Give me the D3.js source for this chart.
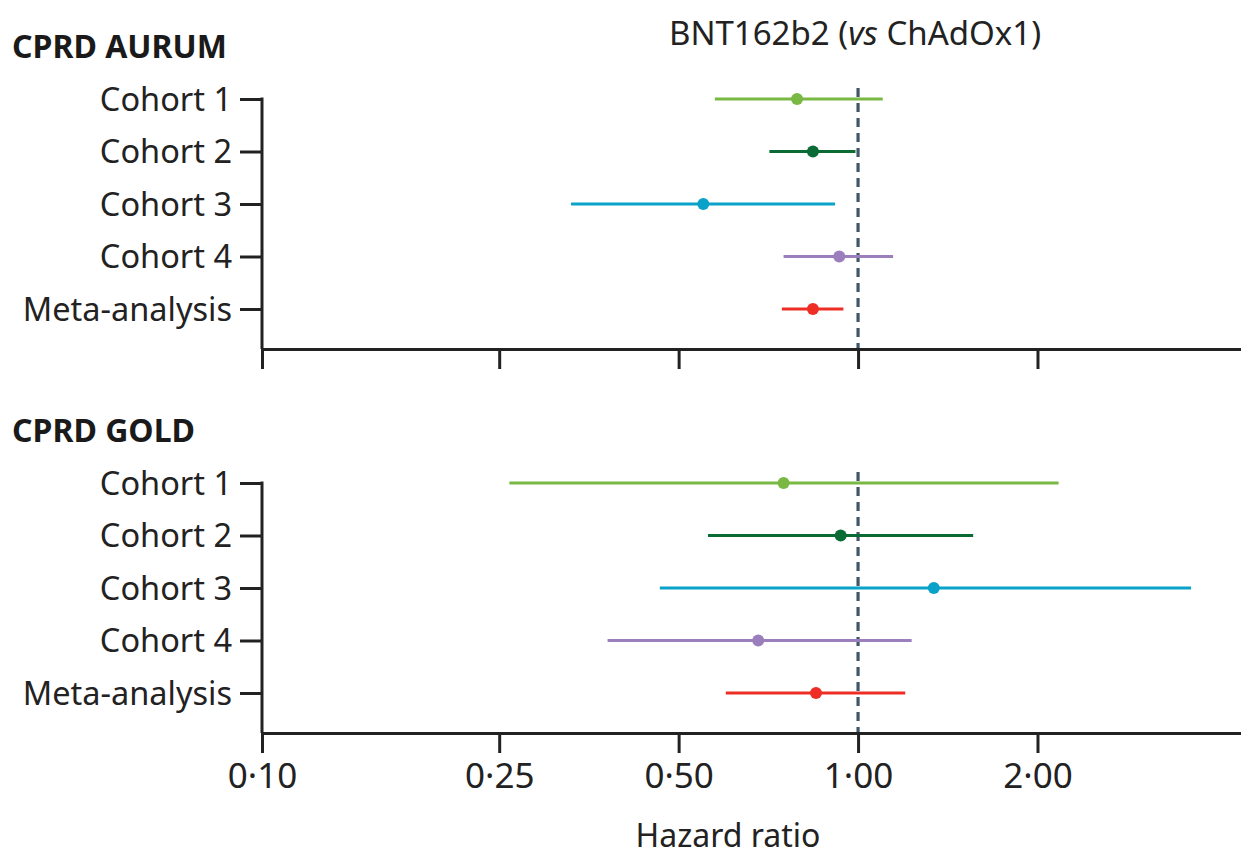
<!DOCTYPE html>
<html>
<head>
<meta charset="utf-8">
<script src="https://cdn.jsdelivr.net/npm/d3@7"></script>
<style>
  body { margin: 0; background: #fff; }
  svg { display: block; font-family: "Noto Sans", sans-serif; }
</style>
</head>
<body>
<div id="chart"></div>
<script>
'use strict';

// rows of each panel
var rows = ["Cohort 1", "Cohort 2", "Cohort 3", "Cohort 4", "Meta-analysis"];

// CPRD AURUM, hazard ratio with 95% CI
var aurumHR   = [0.79, 0.84, 0.55, 0.93, 0.84];
var aurumLow  = [0.575, 0.71, 0.33, 0.75, 0.745];
var aurumHigh = [1.10, 0.99, 0.915, 1.145, 0.945];

// CPRD GOLD
var goldHR   = [0.75, 0.935, 1.34, 0.68, 0.85];
var goldLow  = [0.26, 0.56, 0.465, 0.38, 0.60];
var goldHigh = [2.17, 1.56, 3.62, 1.23, 1.20];

var xTicks = [0.10, 0.25, 0.50, 1.00, 2.00];
var xTickLabels = ["0·10", "0·25", "0·50", "1·00", "2·00"];

var width = 1241, height = 859;
var colors = ["#78b843", "#0b6b35", "#0ba2c9", "#9b7fbd", "#ee2e24"];

var svg = d3.select("#chart").append("svg")
    .attr("width", width)
    .attr("height", height);

var x = d3.scaleLog()
    .domain([0.1, 4.39])
    .range([262, 1241]);

svg.append("text")
    .attr("x", 855)
    .attr("y", 45)
    .attr("text-anchor", "middle")
    .style("font-size", "33px")
    .style("fill", "#222")
    .html('BNT162b2 (<tspan font-style="italic">vs</tspan> ChAdOx1)');

function drawPanel(title, top, hr, low, high, showLabels) {
    var g = svg.append("g");
    var axisY = top + 250;

    var y = d3.scalePoint()
        .domain(rows)
        .range([top, top + 210]);

    g.append("text")
        .attr("x", 12)
        .attr("y", top - 41)
        .style("font-size", "32px")
        .style("font-weight", "bold")
        .style("fill", "#1a1a1a")
        .text(title);

    // reference line at HR = 1
    g.append("line")
        .attr("x1", x(1)).attr("x2", x(1))
        .attr("y1", top - 11).attr("y2", axisY)
        .attr("stroke", "#40576a")
        .attr("stroke-width", 3.2)
        .attr("stroke-dasharray", "9,6");

    // y axis
    var yAxis = g.append("g")
        .attr("transform", "translate(" + x(0.1) + ",0)")
        .call(d3.axisLeft(y).tickSize(22).tickSizeOuter(0).tickPadding(8));
    yAxis.select(".domain").remove();
    yAxis.append("line")
        .attr("y1", top - 1.5).attr("y2", axisY)
        .attr("stroke", "#222").attr("stroke-width", 3);
    yAxis.selectAll(".tick line").attr("stroke", "#222").attr("stroke-width", 3);
    yAxis.selectAll(".tick text")
        .style("font-size", "32.5px")
        .style("fill", "#222")
        .attr("dy", "0.34em")
        .attr("font-family", "Noto Sans");

    // x axis
    var xAxis = g.append("g")
        .attr("transform", "translate(0," + axisY + ")")
        .call(d3.axisBottom(x).tickValues(xTicks)
            .tickFormat(function (d, i) { return showLabels ? xTickLabels[i] : ""; })
            .tickSize(20).tickSizeOuter(0).tickPadding(10));
    xAxis.select(".domain").attr("stroke", "#222").attr("stroke-width", 3);
    xAxis.selectAll(".tick line").attr("stroke", "#222").attr("stroke-width", 3);
    xAxis.selectAll(".tick text")
        .style("font-size", "35px")
        .style("fill", "#222")
        .attr("font-family", "Noto Sans");

    // confidence intervals
    g.selectAll(".ci")
        .data(rows)
        .enter().append("line")
        .attr("x1", function (d, i) { return x(low[i]); })
        .attr("x2", function (d, i) { return x(high[i]); })
        .attr("y1", function (d) { return y(d); })
        .attr("y2", function (d) { return y(d); })
        .attr("stroke", function (d, i) { return colors[i]; })
        .attr("stroke-width", 3);

    // point estimates
    g.selectAll(".pt")
        .data(rows)
        .enter().append("circle")
        .attr("cx", function (d, i) { return x(hr[i]); })
        .attr("cy", function (d) { return y(d); })
        .attr("r", 6)
        .attr("fill", function (d, i) { return colors[i]; });
}

drawPanel("CPRD AURUM", 99, aurumHR, aurumLow, aurumHigh, false);
drawPanel("CPRD GOLD", 483, goldHR, goldLow, goldHigh, true);

svg.append("text")
    .attr("x", 728)
    .attr("y", 847)
    .attr("text-anchor", "middle")
    .style("font-size", "32px")
    .style("fill", "#222")
    .text("Hazard ratio");
</script>
</body>
</html>
